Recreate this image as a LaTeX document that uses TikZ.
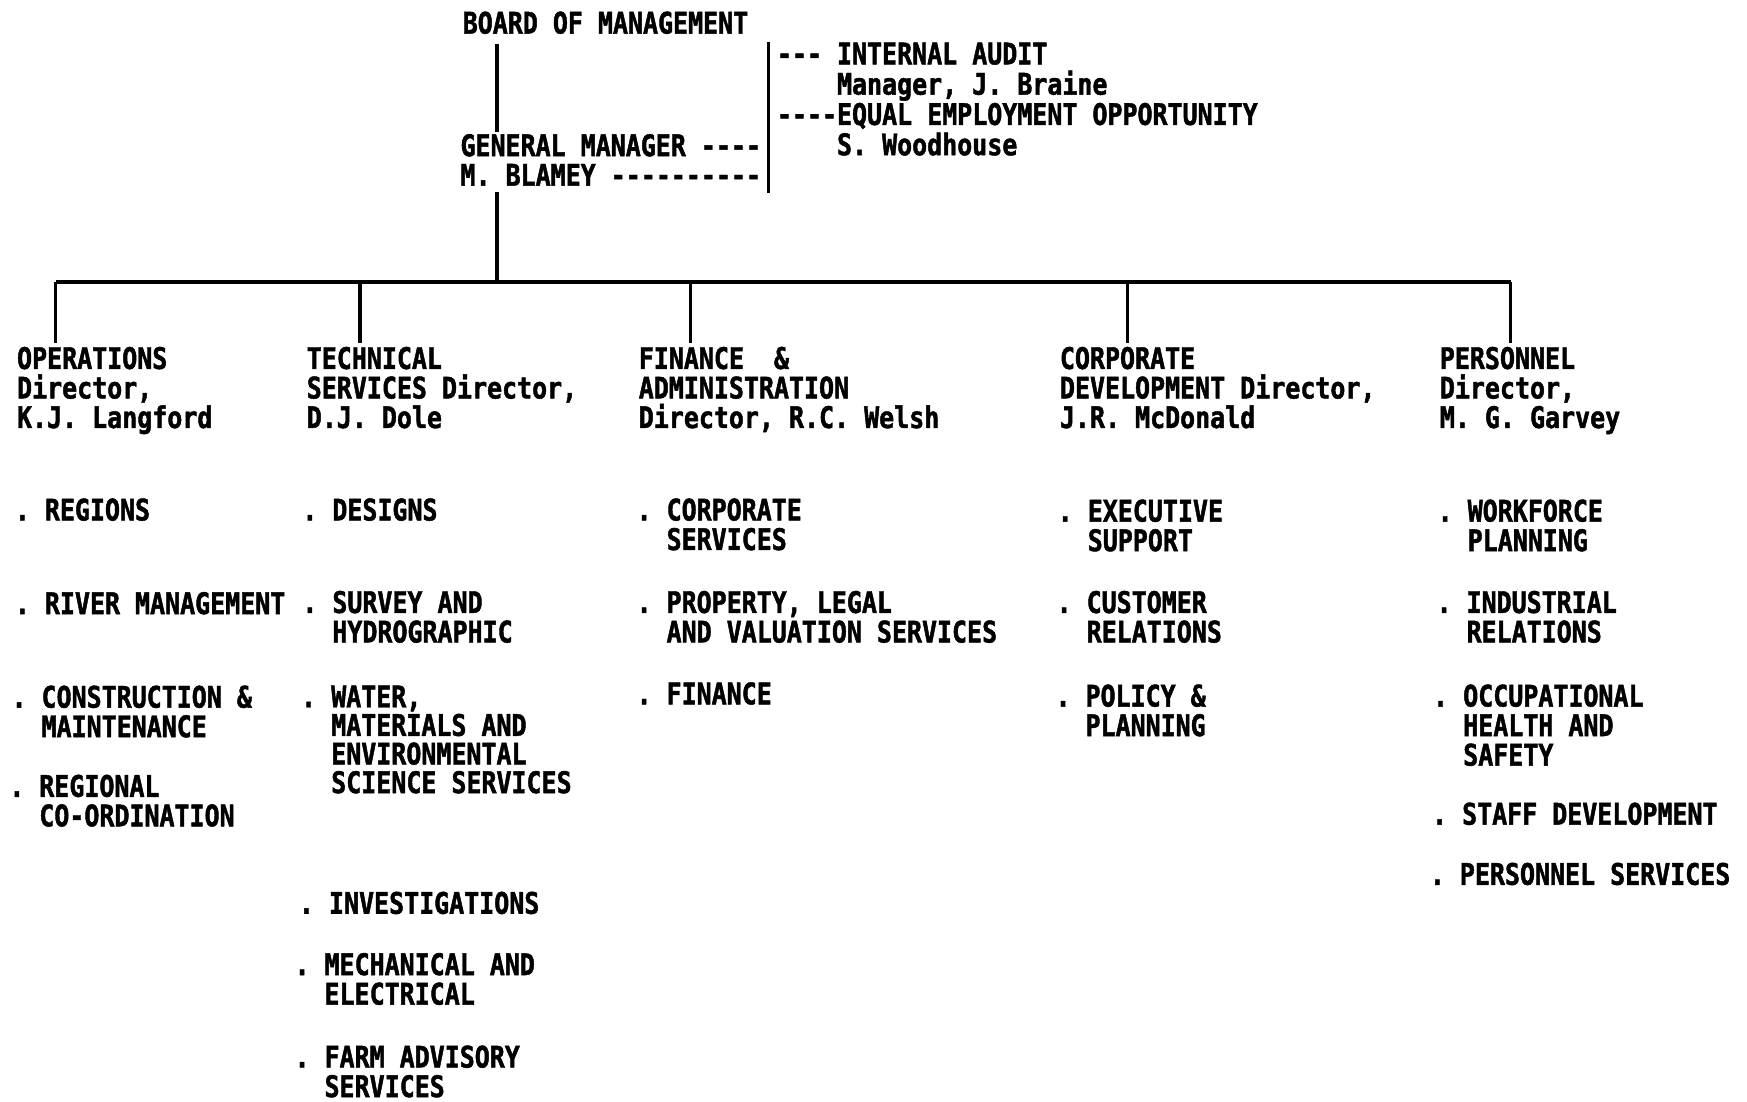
\documentclass[tikz,border=0pt]{standalone}
\usepackage{fontspec}
% Condensed heavy typewriter face for the whole chart
\setmonofont[FakeStretch=0.84, BoldFeatures={FakeBold=1.5}]{DejaVu Sans Mono}
\newcommand\chartfont{\ttfamily\bfseries\fontsize{16}{15.9}\selectfont\frenchspacing}
% indentation by a number of character cells
\newcommand\cells[1]{\hphantom{#1}}
\begin{document}
\begin{tikzpicture}[x=0.6pt,y=-0.6pt,
  txt/.style={anchor=north west, inner sep=0pt, align=left, font=\chartfont},
  link/.style={line width=1.8pt}]
\useasboundingbox (0,0) rectangle (1568,989);

% ---- top of the chart
\node[txt] (board) at (415,10) {BOARD OF MANAGEMENT};
\node[txt] (gm) at (413,120) {GENERAL MANAGER ----\\M. BLAMEY ----------};
\node[txt, font=\chartfont\fontsize{16}{16.3}\selectfont] (staff) at (697,38) {--- INTERNAL AUDIT\\\cells{MMMM}Manager, J. Braine\\----EQUAL EMPLOYMENT OPPORTUNITY\\\cells{MMMM}S. Woodhouse};

\coordinate (spine) at (446,0);
\coordinate (bus) at (0,253);
\coordinate (brTop) at (690,38);
\coordinate (brBot) at (690,173);

\draw[link, shorten <=5pt, shorten >=1pt] (board.south -| spine) -- (gm.north -| spine);
\draw[link, shorten <=3.3pt] (gm.south -| spine) -- (bus -| spine);
\draw[link] (brTop) -- (brBot);

% ---- directors
\node[txt] (ops) at (15,311) {OPERATIONS\\Director,\\K.J. Langford};
\node[txt] (tec) at (275,311) {TECHNICAL\\SERVICES Director,\\D.J. Dole};
\node[txt] (fin) at (573,311) {FINANCE\ \ \&\\ADMINISTRATION\\Director, R.C. Welsh};
\node[txt] (cor) at (951,311) {CORPORATE\\DEVELOPMENT Director,\\J.R. McDonald};
\node[txt] (per) at (1292,311) {PERSONNEL\\Director,\\M. G. Garvey};

\coordinate (d1) at (50,253);
\coordinate (d2) at (323,253);
\coordinate (d3) at (620,253);
\coordinate (d4) at (1012,253);
\coordinate (d5) at (1356,253);

\draw[link] (d1) -- (d5);
\draw[link, shorten >=2pt] (d1) -- (d1 |- ops.north);
\draw[link, shorten >=2pt] (d2) -- (d2 |- tec.north);
\draw[link, shorten >=2pt] (d3) -- (d3 |- fin.north);
\draw[link, shorten >=2pt] (d4) -- (d4 |- cor.north);
\draw[link, shorten >=2pt] (d5) -- (d5 |- per.north);

% ---- operations
\node[txt] (ops1) at (13,447) {. REGIONS};
\node[txt] (ops2) at (13,531) {. RIVER MANAGEMENT};
\node[txt] (ops3) at (10,615) {. CONSTRUCTION \&\\\cells{MM}MAINTENANCE};
\node[txt] (ops4) at (8,695) {. REGIONAL\\\cells{MM}CO-ORDINATION};

% ---- technical services
\node[txt] (tec1) at (271,447) {. DESIGNS};
\node[txt] (tec2) at (271,530) {. SURVEY AND\\\cells{MM}HYDROGRAPHIC};
\node[txt, font=\chartfont\fontsize{16}{15.4}\selectfont] (tec3) at (270,615) {. WATER,\\\cells{MM}MATERIALS AND\\\cells{MM}ENVIRONMENTAL\\\cells{MM}SCIENCE SERVICES};
\node[txt] (tec4) at (268,800) {. INVESTIGATIONS};
\node[txt] (tec5) at (264,855) {. MECHANICAL AND\\\cells{MM}ELECTRICAL};
\node[txt] (tec6) at (264,938) {. FARM ADVISORY\\\cells{MM}SERVICES};

% ---- finance and administration
\node[txt] (fin1) at (571,447) {. CORPORATE\\\cells{MM}SERVICES};
\node[txt] (fin2) at (571,530) {. PROPERTY, LEGAL\\\cells{MM}AND VALUATION SERVICES};
\node[txt] (fin3) at (571,612) {. FINANCE};

% ---- corporate development
\node[txt] (cor1) at (949,448) {. EXECUTIVE\\\cells{MM}SUPPORT};
\node[txt] (cor2) at (948,530) {. CUSTOMER\\\cells{MM}RELATIONS};
\node[txt] (cor3) at (947,614) {. POLICY \&\\\cells{MM}PLANNING};

% ---- personnel
\node[txt] (per1) at (1290,448) {. WORKFORCE\\\cells{MM}PLANNING};
\node[txt] (per2) at (1289,530) {. INDUSTRIAL\\\cells{MM}RELATIONS};
\node[txt] (per3) at (1286,614) {. OCCUPATIONAL\\\cells{MM}HEALTH AND\\\cells{MM}SAFETY};
\node[txt] (per4) at (1285,720) {. STAFF DEVELOPMENT};
\node[txt] (per5) at (1283,774) {. PERSONNEL SERVICES};
\end{tikzpicture}
\end{document}
